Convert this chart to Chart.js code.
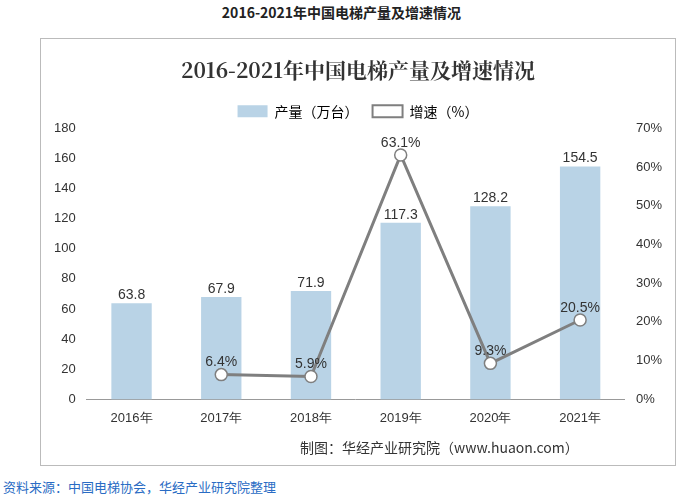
<!DOCTYPE html>
<html><head><meta charset="utf-8">
<script src="https://cdn.jsdelivr.net/npm/chart.js@4"></script>
<style>
body{margin:0;width:683px;height:497px;background:#fff;font-family:"Noto Sans CJK SC",sans-serif;position:relative;overflow:hidden}
#top{position:absolute;top:2px;left:0;width:683px;text-align:center;font-weight:bold;font-size:14px;color:#222}
#box{position:absolute;left:40px;top:38px;width:634px;height:426px;border:1px solid #bbb}
#src{position:absolute;left:300px;top:437px;font-size:14px;color:#333}
#foot{position:absolute;left:3px;top:477px;font-size:13px;color:#2a6cc4}
</style></head><body>
<div id="top">2016-2021年中国电梯产量及增速情况</div>
<div id="box"><canvas id="c" width="634" height="426"></canvas></div>
<div id="src">制图：华经产业研究院（www.huaon.com）</div>
<div id="foot">资料来源：中国电梯协会，华经产业研究院整理</div>
<script>
const years = ['2016年','2017年','2018年','2019年','2020年','2021年'];
const output = [63.8, 67.9, 71.9, 117.3, 128.2, 154.5];
const growth = [null, 6.4, 5.9, 63.1, 9.3, 20.5];

const labels = {
  id: 'labels',
  afterDatasetsDraw(chart) {
    const ctx = chart.ctx;
    ctx.save();
    ctx.font = '14px "Liberation Sans", Arial';
    ctx.fillStyle = '#333';
    ctx.textAlign = 'center';
    chart.getDatasetMeta(0).data.forEach((b, i) => {
      ctx.fillText(output[i].toFixed(1), b.x, b.y - 8);
    });
    chart.getDatasetMeta(1).data.forEach((p, i) => {
      if (growth[i] == null) return;
      ctx.fillText(growth[i].toFixed(1) + '%', p.x, p.y - 12);
    });
    ctx.restore();
  }
};

new Chart(document.getElementById('c'), {
  data: {
    labels: years,
    datasets: [
      { type: 'bar', label: '产量（万台）', data: output, backgroundColor: '#b9d3e6', yAxisID: 'y', barPercentage: 0.75, categoryPercentage: 0.6, order: 2 },
      { type: 'line', label: '增速（%）', data: growth, borderColor: '#7f7f7f', borderWidth: 3, pointBackgroundColor: '#fff', pointBorderColor: '#7f7f7f', pointBorderWidth: 1.5, pointRadius: 6, yAxisID: 'y1', order: 1 }
    ]
  },
  options: {
    responsive: false,
    animation: false,
    layout: { padding: { left: 10, right: 10, bottom: 36 } },
    plugins: {
      title: { display: true, text: '2016-2021年中国电梯产量及增速情况', font: { family: '"Noto Serif CJK SC","Noto Sans CJK SC"', size: 21, weight: 'bold' }, color: '#333', padding: { top: 18, bottom: 8 } },
      legend: {
        labels: {
          boxWidth: 30, boxHeight: 12, font: { family: '"Noto Sans CJK SC"', size: 14 }, color: '#333',
          sort: (a, b) => a.datasetIndex - b.datasetIndex,
          generateLabels: chart => chart.data.datasets.map((d, i) => ({
            text: d.label, datasetIndex: i,
            fillStyle: d.type === 'bar' ? d.backgroundColor : '#fff',
            strokeStyle: d.type === 'bar' ? d.backgroundColor : '#7f7f7f',
            lineWidth: d.type === 'bar' ? 0 : 2,
            pointStyle: d.type === 'bar' ? 'rect' : 'circle'
          })),
          padding: 14
        }
      },
      tooltip: { enabled: false }
    },
    scales: {
      x: { grid: { display: false }, border: { color: '#999' }, ticks: { color: '#333', font: { size: 13 } } },
      y: { min: 0, max: 180, ticks: { stepSize: 20, color: '#333', font: { size: 13 } }, grid: { display: false }, border: { display: false } },
      y1: { position: 'right', min: 0, max: 70, ticks: { stepSize: 10, callback: v => v + '%', color: '#333', font: { size: 13 } }, grid: { display: false }, border: { display: false } }
    }
  },
  plugins: [labels]
});
</script>
</body></html>
